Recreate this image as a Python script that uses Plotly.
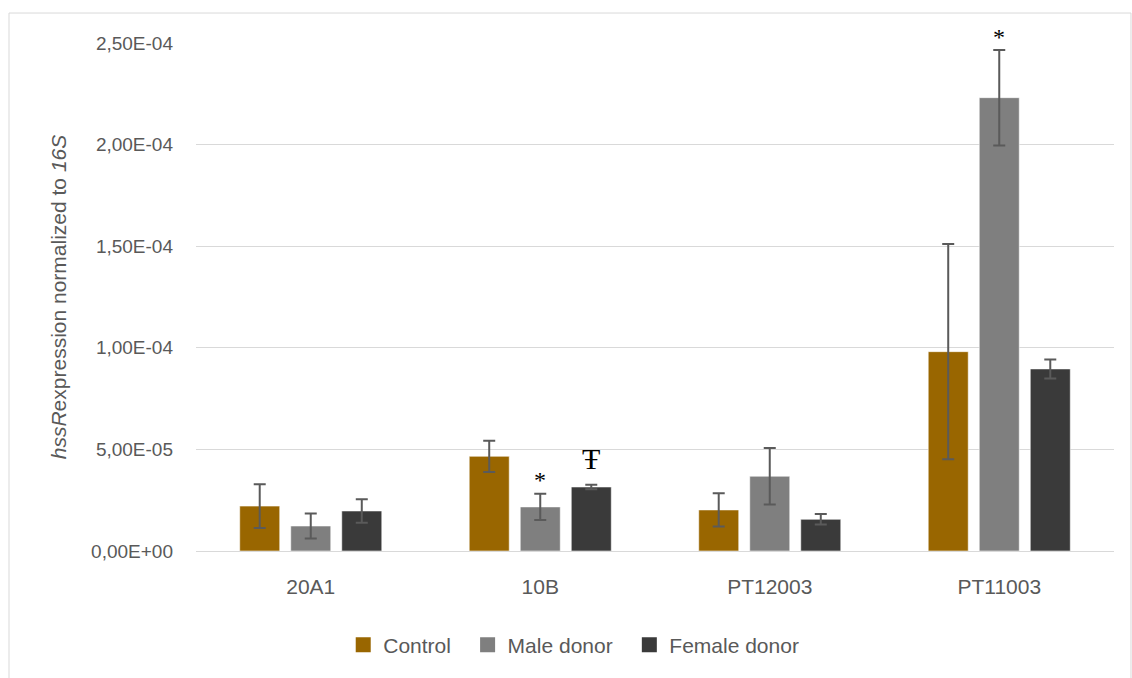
import plotly.graph_objects as go

# Strains on the x axis
strains = ["20A1", "10B", "PT12003", "PT11003"]

# hssR expression normalized to 16S (mean and error per condition)
control = [2.21e-5, 4.66e-5, 2.02e-5, 9.81e-5]
control_err = [1.08e-5, 0.77e-5, 0.82e-5, 5.30e-5]

male = [1.23e-5, 2.17e-5, 3.68e-5, 2.231e-4]
male_err = [0.61e-5, 0.65e-5, 1.39e-5, 2.35e-5]

female = [1.97e-5, 3.15e-5, 1.56e-5, 8.96e-5]
female_err = [0.58e-5, 0.11e-5, 0.26e-5, 0.47e-5]

# Y axis ticks written in comma-decimal scientific notation
y_ticks = [0, 5e-5, 1e-4, 1.5e-4, 2e-4, 2.5e-4]
y_tick_labels = ["0,00E+00", "5,00E-05", "1,00E-04", "1,50E-04", "2,00E-04", "2,50E-04"]

series = [
    ("Control", control, control_err, "#996600"),
    ("Male donor", male, male_err, "#7f7f7f"),
    ("Female donor", female, female_err, "#3a3a3a"),
]

FONT = "Liberation Sans"
TEXT_GREY = "#595959"
GRID = "#d9d9d9"

fig = go.Figure()
for name, vals, errs, color in series:
    fig.add_trace(go.Bar(
        name=name,
        x=strains,
        y=vals,
        showlegend=False,
        marker=dict(color=color, line=dict(color="rgba(255,255,255,0.55)", width=1)),
        error_y=dict(type="data", array=errs, visible=True,
                     color="#5a5a5a", thickness=2, width=6),
    ))

# Legend entries with larger square swatches
for name, _, _, color in series:
    fig.add_trace(go.Scatter(
        name=name + "  ", x=[None], y=[None], mode="markers",
        marker=dict(symbol="square", size=15, color=color, line=dict(width=0)),
        showlegend=True,
    ))

# Significance marks: (strain, series index, symbol, size, lift in px)
marks = [
    ("10B", 1, "*", 24, 14),
    ("10B", 2, "Ŧ", 30, 26),
    ("PT11003", 1, "*", 24, 13),
]
slot_px = 51  # distance between bar centers within a group
for strain, si, sym, size, lift in marks:
    _, vals, errs, _ = series[si]
    i = strains.index(strain)
    fig.add_annotation(
        x=strain, y=vals[i] + errs[i], xref="x", yref="y",
        text=sym, showarrow=False, yanchor="middle",
        xshift=(si - 1) * slot_px, yshift=lift,
        font=dict(family="Liberation Serif", size=size, color="#000000"),
    )

# Light frame around the chart
fig.add_shape(type="rect", xref="paper", yref="paper",
              x0=-0.2037, x1=1.0185, y0=-0.30, y1=1.059,
              line=dict(color=GRID, width=1), fillcolor="rgba(0,0,0,0)", layer="below")

fig.update_layout(
    width=1132, height=678,
    margin=dict(l=196, r=18, t=43, b=127),
    paper_bgcolor="white", plot_bgcolor="white",
    barmode="group", bargap=0.333, bargroupgap=0.216,
    font=dict(family=FONT, color=TEXT_GREY),
    showlegend=True,
    legend=dict(orientation="h", x=0.418, xanchor="center", y=-0.185, yanchor="middle",
                font=dict(size=21, color=TEXT_GREY), traceorder="normal",
                itemclick=False, itemsizing="trace"),
    xaxis=dict(showgrid=False, showline=False, zeroline=False,
               tickfont=dict(size=21, color=TEXT_GREY), ticks="", ticklabelstandoff=21),
    yaxis=dict(range=[0, 2.5e-4], tickvals=y_ticks, ticktext=y_tick_labels,
               showgrid=True, gridcolor=GRID, gridwidth=1,
               zeroline=True, zerolinecolor=GRID, zerolinewidth=1,
               showline=False, ticks="", ticklabelstandoff=22,
               tickfont=dict(size=19, color=TEXT_GREY),
               title=dict(text="<i>hssR</i>expression normalized to <i>16S</i>",
                          font=dict(size=21, color=TEXT_GREY), standoff=18)),
)

fig.write_html("out.html")
